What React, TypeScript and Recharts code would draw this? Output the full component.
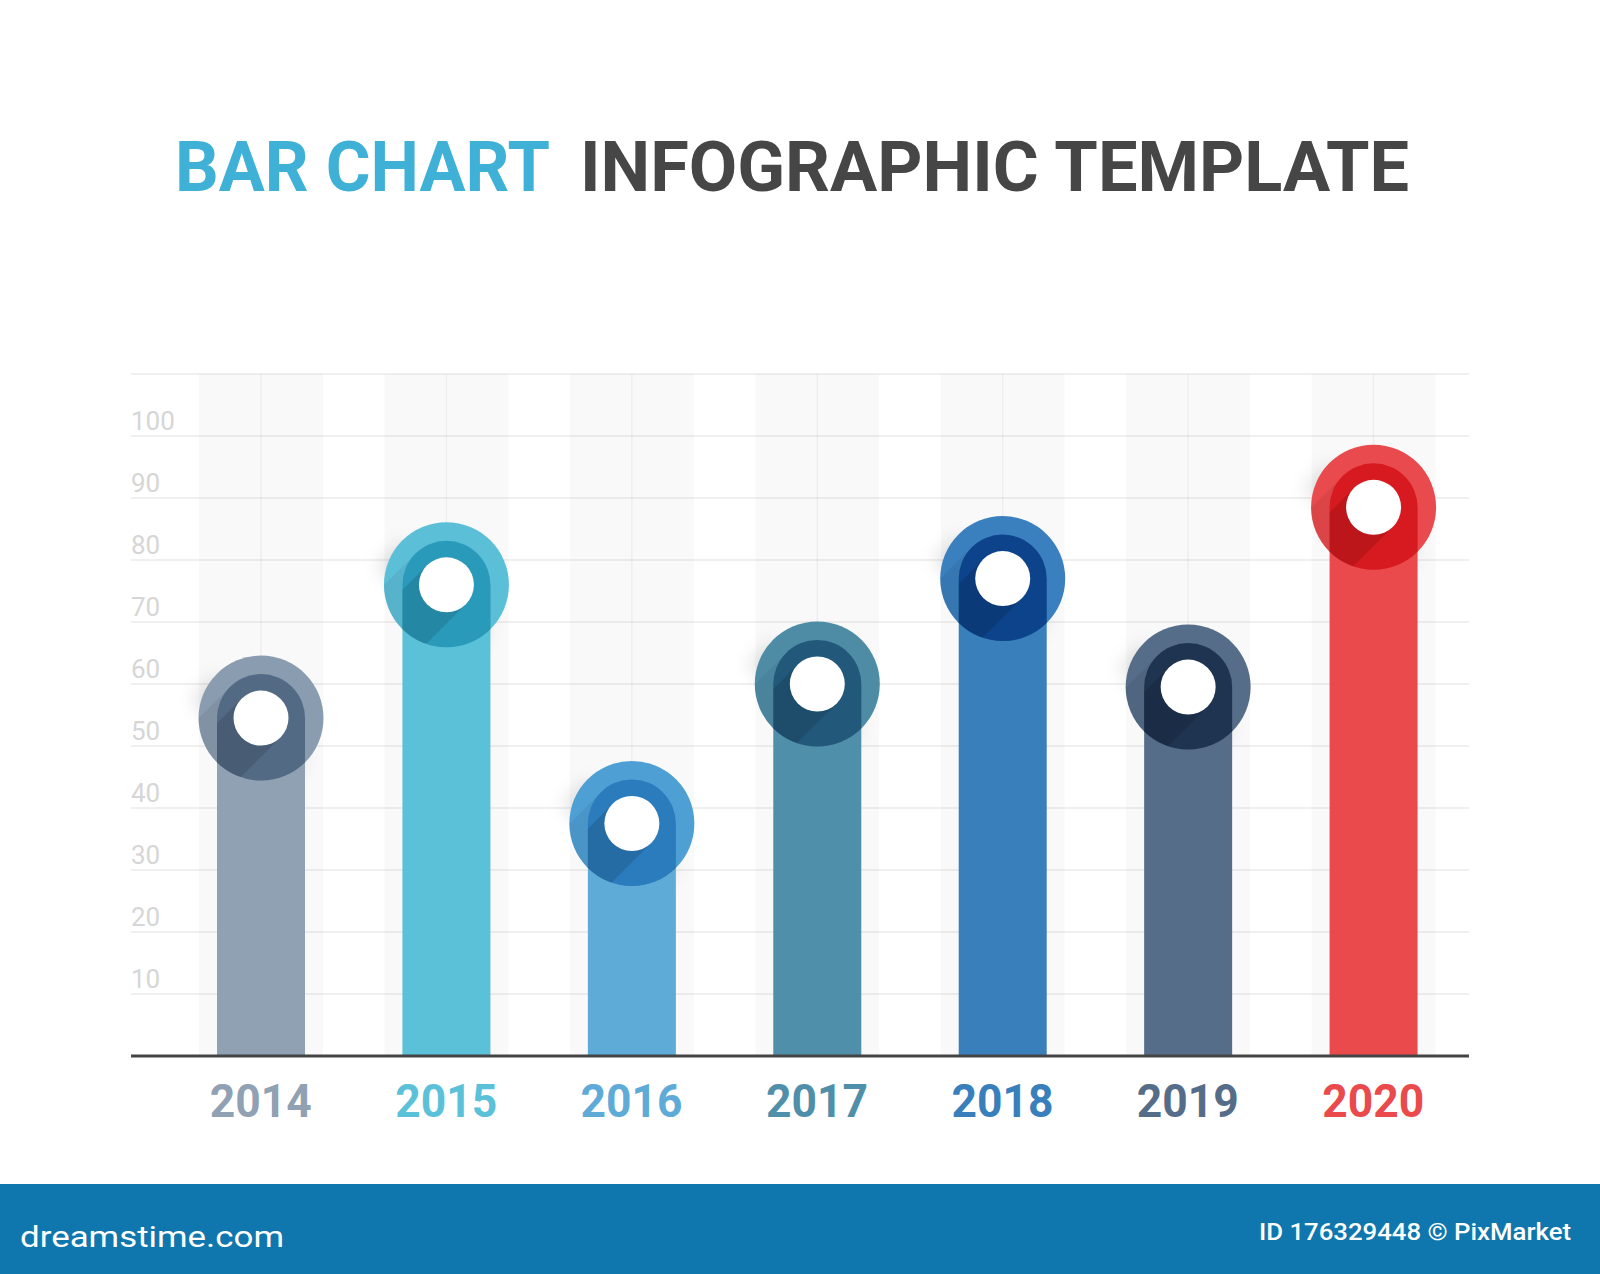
import React from "react";
import { BarChart, Bar, XAxis, YAxis, CartesianGrid } from "recharts";

const years = ["2014", "2015", "2016", "2017", "2018", "2019", "2020"];
const values = [54.5, 76, 37.5, 60, 77, 59.5, 88.5];
const barColors = ["#8fa1b3", "#5bc1d9", "#5eabd8", "#4f8fa9", "#387fbb", "#566d89", "#ea4a4c"];
const ringColors = ["#8a9cb0", "#5cbfd8", "#4e9fd4", "#4e8ca6", "#3a7fbe", "#566d89", "#e94a4d"];
const pinColors = ["#536a85", "#2a9abb", "#2b7cbc", "#22587a", "#0d438a", "#1f3450", "#d71a1f"];
const yTicks = [10, 20, 30, 40, 50, 60, 70, 80, 90, 100];

const data = years.map((year, i) => ({ year, value: values[i] }));

const PLOT_LEFT = 131;
const PLOT_RIGHT = 131;
const PLOT_TOP = 374;
const AXIS_HEIGHT = 128;
const CHART_W = 1600;
const CHART_H = 1184;

const BAR_W = 88;
const BAND_W = 124;
const RING_R = 62.5;
const HOLE_R = 27.5;

const Band = (props: any) => {
    const { x, y, width, height } = props;
    const cx = x + width / 2;
    return (
        <g>
            <rect x={cx - BAND_W / 2} y={y} width={BAND_W} height={height} fill="#000" fillOpacity={0.024} />
            <line x1={cx} x2={cx} y1={y} y2={y + height} stroke="#000" strokeOpacity={0.045} strokeWidth={1.5} />
        </g>
    );
};

// bar + "pin" marker with long flat shadows
const PinBar = (props: any) => {
    const { x, y, width, height, index } = props;
    const cx = x + width / 2;
    const cy = y;
    const a = width / 2;
    const d = Math.SQRT1_2;
    const L = 200;
    const outerId = `ring-clip-${index}`;
    const pinId = `pin-clip-${index}`;
    const blurId = `soft-${index}`;
    const pinPath = `M${cx - a},${cy} A${a},${a} 0 0 1 ${cx + a},${cy} L${cx + a},${cy + RING_R + 2} L${cx - a},${cy + RING_R + 2} Z`;

    const shadowLen = 36;
    const outerShadow = [
        [cx + RING_R * d, cy + RING_R * d],
        [cx - RING_R * d, cy - RING_R * d],
        [cx - RING_R * d - shadowLen * d, cy - RING_R * d + shadowLen * d],
        [cx + RING_R * d - shadowLen * d, cy + RING_R * d + shadowLen * d],
    ].map((p) => p.join(",")).join(" ");

    const pinShadow = [
        [cx - a * d, cy - a * d],
        [cx - a * d - L * d, cy - a * d + L * d],
        [cx + a - L * d, cy + RING_R + L * d],
        [cx + a, cy + RING_R],
        [cx + a, cy],
    ].map((p) => p.join(",")).join(" ");

    const holeShadow = [
        [cx - HOLE_R * d, cy - HOLE_R * d],
        [cx - HOLE_R * d - L * d, cy - HOLE_R * d + L * d],
        [cx + HOLE_R * d - L * d, cy + HOLE_R * d + L * d],
        [cx + HOLE_R * d, cy + HOLE_R * d],
    ].map((p) => p.join(",")).join(" ");

    return (
        <g>
            <defs>
                <clipPath id={outerId}>
                    <circle cx={cx} cy={cy} r={RING_R} />
                </clipPath>
                <clipPath id={pinId}>
                    <path d={pinPath} />
                </clipPath>
                <filter id={blurId} x="-100%" y="-100%" width="300%" height="300%">
                    <feGaussianBlur stdDeviation={9} />
                </filter>
            </defs>
            <polygon points={outerShadow} fill="#000" fillOpacity={0.12} filter={`url(#${blurId})`} />
            <rect x={x} y={y} width={width} height={height} fill={barColors[index]} />
            <circle cx={cx} cy={cy} r={RING_R} fill={ringColors[index]} />
            <g clipPath={`url(#${outerId})`}>
                <polygon points={pinShadow} fill="#000" fillOpacity={0.06} />
                <path d={pinPath} fill={pinColors[index]} />
                <g clipPath={`url(#${pinId})`}>
                    <polygon points={holeShadow} fill="#000" fillOpacity={0.12} />
                </g>
            </g>
            <circle cx={cx} cy={cy} r={HOLE_R} fill="#fff" />
        </g>
    );
};

const YTick = (props: any) => {
    const { y, payload } = props;
    return (
        <text x={PLOT_LEFT} y={y - 15} fill="#d6d6d6" fontSize={26} fontFamily="Roboto" dominantBaseline="central">
            {payload.value}
        </text>
    );
};

const XTick = (props: any) => {
    const { x, y, payload, index } = props;
    return (
        <text
            x={x}
            y={y + 44}
            fill={barColors[index]}
            fontSize={47}
            fontWeight={700}
            fontFamily="Roboto"
            textAnchor="middle"
            dominantBaseline="central"
            textLength={102}
            lengthAdjust="spacingAndGlyphs"
        >
            {payload.value}
        </text>
    );
};

export default function App() {
    return (
        <div style={{ position: "absolute", left: 0, top: 0, width: 1600, height: 1274, background: "#fff", overflow: "hidden" }}>
            <svg width={1600} height={1274} style={{ position: "absolute", left: 0, top: 0 }}>
                <text x={175} y={191} fill="#3fb0d6" fontSize={70} fontWeight={700} fontFamily="Roboto" textLength={375} lengthAdjust="spacingAndGlyphs">
                    BAR CHART
                </text>
                <text x={580} y={191} fill="#464646" fontSize={70} fontWeight={700} fontFamily="Roboto" textLength={829} lengthAdjust="spacingAndGlyphs">
                    INFOGRAPHIC TEMPLATE
                </text>
                <rect x={0} y={1184} width={1600} height={90} fill="#0f77ad" />
                <text x={20} y={1247} fill="#fff" fontSize={30} fontFamily="Roboto" textLength={264} lengthAdjust="spacingAndGlyphs">
                    dreamstime.com
                </text>
                <text x={1259} y={1240} fill="#fff" fontSize={23} fontWeight={500} fontFamily="Roboto" textLength={312} lengthAdjust="spacingAndGlyphs">
                    ID 176329448 © PixMarket
                </text>
            </svg>
            <div style={{ position: "absolute", left: 0, top: 0 }}>
                <BarChart
                    width={CHART_W}
                    height={CHART_H}
                    data={data}
                    margin={{ top: PLOT_TOP, right: PLOT_RIGHT, bottom: 0, left: PLOT_LEFT - 1 }}
                >
                    <CartesianGrid vertical={false} stroke="#ebebeb" strokeWidth={1.5} />
                    <YAxis
                        width={1}
                        domain={[0, 110]}
                        ticks={yTicks}
                        interval={0}
                        axisLine={false}
                        tickLine={false}
                        tick={<YTick />}
                    />
                    <XAxis
                        dataKey="year"
                        height={AXIS_HEIGHT}
                        padding={{ left: 37, right: 3 }}
                        axisLine={{ stroke: "#444", strokeWidth: 3 }}
                        tickLine={false}
                        tickSize={0}
                        tickMargin={0}
                        interval={0}
                        tick={<XTick />}
                    />
                    <Bar
                        dataKey="value"
                        barSize={BAR_W}
                        background={(p: any) => <Band {...p} />}
                        shape={(p: any) => <PinBar {...p} />}
                        isAnimationActive={false}
                    />
                </BarChart>
            </div>
        </div>
    );
}
